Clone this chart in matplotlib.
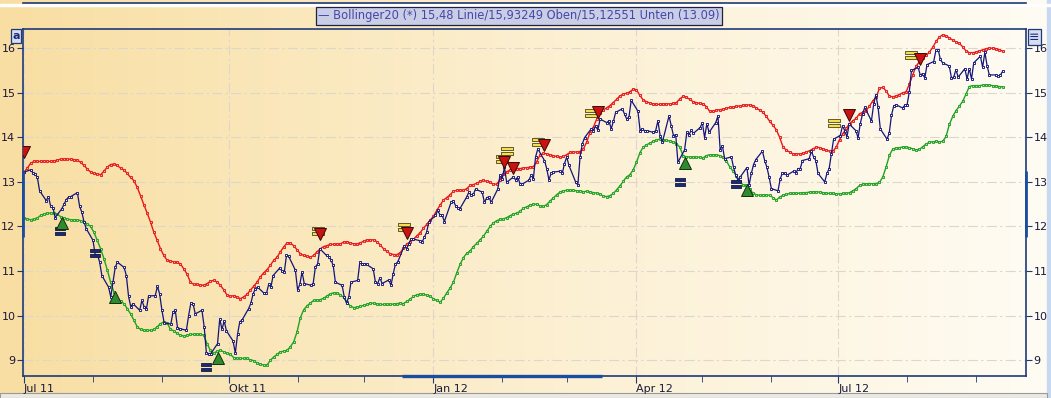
import matplotlib
matplotlib.use("Agg")
import matplotlib.pyplot as plt
import matplotlib.dates as mdates
from matplotlib.colors import LinearSegmentedColormap
from matplotlib.patches import Rectangle
from matplotlib.path import Path
import numpy as np
import pandas as pd

# daily close, one value per trading day from 2011-07-01
price = [
    # Q3 2011
    13.22, 13.27, 13.2, 13.18, 13.1, 12.8, 12.58, 12.67, 12.45, 12.42,
    12.2, 12.4, 12.5, 12.6, 12.66, 12.67, 12.76, 12.45, 12.32, 12.1,
    11.95, 11.69, 11.37, 11.37, 11.2, 10.9, 10.64, 10.42, 10.75, 11.08,
    11.2, 11.08, 10.9, 10.43, 10.2, 10.27, 10.12, 10.34, 10.2, 10.14,
    10.44, 10.45, 10.66, 10.48, 10.12, 9.84, 9.81, 10.08, 10.12, 9.73,
    9.71, 9.67, 10.0, 10.28, 10.27, 10.04, 10.12, 9.75, 9.16, 9.15,
    9.15, 9.37, 9.93, 9.69, 9.88, 9.66,
    # Q4 2011
    9.43, 9.16, 9.58, 9.86, 9.9, 10.16, 10.28, 10.49, 10.6, 10.64,
    10.5, 10.5, 10.7, 10.64, 10.9, 11.07, 11.0, 10.97, 11.35, 11.33,
    11.02, 10.58, 10.7, 10.98, 10.72, 10.68, 10.72, 11.09, 11.16, 11.5,
    11.35, 11.32, 11.25, 11.13, 10.75, 10.68, 10.42, 10.28, 10.42, 10.75,
    10.79, 11.2, 11.16, 11.16, 11.15, 11.05, 10.75, 10.72, 10.85, 10.72,
    10.8, 10.68, 10.94, 11.16, 11.2, 11.57, 11.5, 11.61, 11.72, 11.72,
    11.68, 11.65, 11.76, 11.87, 12.1,
    # Q1 2012
    12.25, 12.36, 12.26, 12.25, 12.11, 12.54, 12.58, 12.47, 12.42, 12.4,
    12.66, 12.77, 12.7, 12.72, 12.84, 12.77, 12.54, 12.64, 12.67, 12.54,
    12.84, 13.15, 13.07, 13.33, 12.99, 13.11, 13.05, 13.11, 12.96, 12.95,
    13.04, 13.15, 13.07, 13.56, 13.74, 13.48, 13.3, 13.05, 13.19, 13.22,
    13.24, 13.19, 13.41, 13.56, 13.37, 13.0, 12.93, 13.56, 13.85, 13.99,
    14.19, 14.15, 14.26, 14.16, 14.41, 14.33, 14.37, 14.19, 14.36, 14.56,
    14.64, 14.52, 14.41, 14.46, 14.83,
    # Q2 2012
    14.59, 14.15, 14.19, 14.15, 14.15, 14.11, 14.15, 14.37, 14.04, 13.89,
    14.48, 14.26, 14.04, 14.06, 13.44, 13.72, 14.11, 14.06, 14.16, 14.09,
    14.22, 14.33, 13.99, 14.31, 14.11, 14.33, 14.48, 13.72, 13.81, 13.52,
    13.56, 13.33, 13.15, 13.04, 13.11, 13.32, 12.93, 13.19, 13.39, 13.5,
    13.69, 13.48, 13.33, 13.11, 12.85, 12.8, 13.07, 13.2, 13.19, 13.15,
    13.24, 13.19, 13.3, 13.3, 13.48, 13.52, 13.69, 13.56, 13.48, 13.19,
    13.0, 13.19, 13.3, 13.63, 13.96,
    # Q3 2012
    14.04, 14.26, 14.15, 14.01, 14.3, 14.15, 13.99, 14.31, 14.52, 14.67,
    14.37, 14.74, 14.96, 14.67, 14.19, 13.96, 14.09, 14.49, 14.7, 14.73,
    14.66, 14.72, 14.72, 15.01, 15.5, 15.57, 15.39, 15.43, 15.33, 15.63,
    15.7, 15.95, 15.97, 15.75, 15.67, 15.6, 15.33, 15.35, 15.52, 15.35,
    15.54, 15.31, 15.54, 15.31, 15.67, 15.82, 15.57, 15.91, 15.61, 15.4,
    15.4, 15.37, 15.4, 15.48,
]

# Bollinger bands, evenly spaced from 2011-07-01 to 2012-09-13
upper_band = [
    13.22, 13.31, 13.42, 13.46, 13.46, 13.46, 13.46, 13.46, 13.46, 13.47,
    13.49, 13.51, 13.51, 13.51, 13.51, 13.5, 13.49, 13.44, 13.37, 13.29,
    13.22, 13.19, 13.18, 13.16, 13.24, 13.33, 13.39, 13.4, 13.37, 13.31,
    13.27, 13.19, 13.1, 13.03, 12.88, 12.69, 12.49, 12.3, 12.1, 11.87,
    11.69, 11.5, 11.35, 11.24, 11.22, 11.21, 11.2, 11.16, 11.05, 10.93,
    10.75, 10.7, 10.7, 10.69, 10.68, 10.72, 10.77, 10.79, 10.75, 10.68,
    10.58, 10.46, 10.43, 10.45, 10.42, 10.38, 10.42, 10.48, 10.57, 10.66,
    10.75, 10.87, 10.96, 11.03, 11.13, 11.24, 11.31, 11.43, 11.54, 11.63,
    11.63, 11.57, 11.48,
    11.39, 11.35, 11.33, 11.31, 11.35, 11.43, 11.5, 11.55, 11.57, 11.6,
    11.6, 11.6, 11.61, 11.65, 11.66, 11.63, 11.61, 11.61, 11.63, 11.67,
    11.7, 11.7, 11.7, 11.66, 11.59, 11.5, 11.44, 11.39, 11.37, 11.37,
    11.41, 11.51, 11.61, 11.65, 11.71, 11.79, 11.86, 11.96, 12.05, 12.14,
    12.23, 12.36, 12.48, 12.59, 12.65, 12.71, 12.79, 12.81, 12.81, 12.81,
    12.85, 12.92, 12.94, 12.97, 13.01, 13.04, 13.01, 12.99,
    12.95, 12.95, 13.05, 13.17, 13.23, 13.26, 13.28, 13.3, 13.3, 13.31,
    13.32, 13.33, 13.34, 13.45, 13.6, 13.64, 13.63, 13.61, 13.59, 13.57,
    13.56, 13.57, 13.61, 13.66, 13.67, 13.67, 13.68, 13.73, 13.89, 14.1,
    14.22, 14.4, 14.54, 14.61, 14.66, 14.71, 14.78, 14.85, 14.93, 14.97,
    14.99, 15.02, 15.08, 15.07, 14.94, 14.84, 14.8, 14.77, 14.75, 14.74,
    14.74, 14.75, 14.75, 14.75, 14.76, 14.78, 14.86, 14.92, 14.9,
    14.85, 14.8, 14.78, 14.76, 14.75, 14.69, 14.58, 14.59, 14.61, 14.62,
    14.63, 14.65, 14.67, 14.67, 14.7, 14.7, 14.72, 14.72, 14.73, 14.71,
    14.66, 14.61, 14.56, 14.47, 14.36, 14.27, 14.17, 14.0, 13.79, 13.71,
    13.67, 13.63, 13.63, 13.63, 13.64, 13.67, 13.7, 13.74, 13.78, 13.77,
    13.74, 13.71, 13.69, 13.69, 13.78, 13.95, 14.08, 14.2, 14.31, 14.37,
    14.43, 14.53, 14.56, 14.6, 14.7,
    14.82, 14.9, 15.1, 15.12, 15.04, 14.92, 14.91, 14.93, 14.96, 15.0,
    15.02, 15.2, 15.4, 15.6, 15.69, 15.77, 15.84, 15.91, 16.02, 16.15,
    16.25, 16.3, 16.28, 16.23, 16.18, 16.14, 16.11, 16.03, 15.94, 15.9,
    15.9, 15.91, 15.94, 15.96, 15.99, 16.0, 16.0, 15.99, 15.97, 15.93,
]

lower_band = [
    12.19, 12.17, 12.15, 12.17, 12.19, 12.25, 12.28, 12.3, 12.3, 12.3,
    12.28, 12.22, 12.19, 12.17, 12.15, 12.15, 12.15, 12.13, 12.1, 12.06,
    12.0, 11.87, 11.69, 11.5, 11.28, 11.03, 10.75, 10.53, 10.34, 10.33,
    10.27, 10.16, 10.04, 9.9, 9.75, 9.69, 9.67, 9.67, 9.67, 9.69,
    9.75, 9.82, 9.86, 9.84, 9.69, 9.66, 9.6, 9.56, 9.54, 9.56,
    9.58, 9.58, 9.58, 9.58, 9.56, 9.37, 9.22, 9.16, 9.2, 9.22,
    9.19, 9.16, 9.13, 9.06, 9.04, 9.04, 9.04, 9.04, 9.01, 8.99,
    8.94, 8.91, 8.89, 8.89, 9.0, 9.07, 9.13, 9.19, 9.2, 9.22,
    9.3, 9.41, 9.63,
    9.95, 10.13, 10.22, 10.28, 10.34, 10.34, 10.36, 10.39, 10.44, 10.49,
    10.51, 10.51, 10.47, 10.41, 10.3, 10.22, 10.18, 10.19, 10.21, 10.23,
    10.25, 10.28, 10.28, 10.26, 10.25, 10.25, 10.25, 10.25, 10.26, 10.27,
    10.28, 10.27, 10.32, 10.37, 10.43, 10.47, 10.48, 10.48, 10.46, 10.43,
    10.38, 10.34, 10.3, 10.39, 10.51, 10.62, 10.75, 10.96, 11.15, 11.3,
    11.4, 11.45, 11.55, 11.62, 11.7, 11.78, 11.89, 12.0,
    12.08, 12.13, 12.16, 12.17, 12.2, 12.24, 12.28, 12.3, 12.34, 12.41,
    12.44, 12.48, 12.5, 12.5, 12.46, 12.45, 12.49, 12.57, 12.64, 12.71,
    12.77, 12.8, 12.81, 12.81, 12.81, 12.8, 12.8, 12.78, 12.79, 12.78,
    12.76, 12.75, 12.73, 12.68, 12.67, 12.69, 12.74, 12.82, 12.91, 13.01,
    13.11, 13.16, 13.27, 13.44, 13.65, 13.78, 13.83, 13.87, 13.91, 13.94,
    13.96, 13.95, 13.93, 13.92, 13.9, 13.86, 13.78, 13.59, 13.56,
    13.56, 13.56, 13.56, 13.55, 13.54, 13.59, 13.61, 13.61, 13.61, 13.59,
    13.55, 13.47, 13.34, 13.24, 13.14, 13.02, 12.93, 12.92, 12.83, 12.75,
    12.71, 12.7, 12.7, 12.71, 12.7, 12.65, 12.59, 12.66, 12.7, 12.72,
    12.74, 12.74, 12.74, 12.75, 12.76, 12.76, 12.77, 12.78, 12.78, 12.77,
    12.76, 12.75, 12.74, 12.74, 12.73, 12.73, 12.74, 12.74, 12.76, 12.8,
    12.85, 12.92, 12.95, 12.96, 12.96,
    12.96, 12.96, 12.99, 13.11, 13.34, 13.6, 13.74, 13.76, 13.77, 13.78,
    13.78, 13.77, 13.74, 13.72, 13.73, 13.79, 13.85, 13.89, 13.9, 13.91,
    13.9, 13.91, 14.02, 14.29, 14.47, 14.6, 14.7, 14.81, 14.97, 15.14,
    15.16, 15.16, 15.16, 15.17, 15.18, 15.17, 15.16, 15.15, 15.14, 15.13,
]

# signals
sell_dates = ["2011-07-01", "2011-11-11", "2011-12-20", "2012-02-02", "2012-02-06",
              "2012-02-20", "2012-03-15", "2012-07-06", "2012-08-07"]
sell_values = [13.67, 11.83, 11.85, 13.44, 13.31, 13.83, 14.57, 14.5, 15.75]
buy_dates = ["2011-07-18", "2011-08-11", "2011-09-26", "2012-04-23", "2012-05-21"]
buy_values = [12.08, 10.42, 9.05, 13.42, 12.82]
exit_dates = ["2011-07-17", "2011-08-02", "2011-09-21", "2012-04-21", "2012-05-16"]
exit_values = [11.9, 11.4, 8.85, 13.0, 12.95]
note_dates = ["2011-11-10", "2011-12-19", "2012-02-01", "2012-02-03", "2012-02-17",
              "2012-03-12", "2012-06-29", "2012-08-03"]
note_values = [11.9, 11.98, 13.51, 13.69, 13.9, 14.54, 14.32, 15.84]

tick_dates = ["2011-07-01", "2011-10-01", "2012-01-01", "2012-04-01", "2012-07-01"]
tick_labels = ["Jul 11", "Okt 11", "Jan 12", "Apr 12", "Jul 12"]
y_ticks = [9, 10, 11, 12, 13, 14, 15, 16]
legend_text = "Bollinger20 (*) 15,48 Linie/15,93249 Oben/15,12551 Unten (13.09)"

W, H = 1051, 398
NAVY = "#14147a"
FRAME = "#1e3a78"

fig = plt.figure(figsize=(W / 100, H / 100), dpi=100)

# warm horizontal gradient behind everything
bg = fig.add_axes([0, 0, 1, 1], zorder=-10)
cmap = LinearSegmentedColormap.from_list("warm", ["#f8dea2", "#fcefd0", "#fffcf4"])
bg.imshow(np.linspace(0, 1, 256).reshape(1, -1), aspect="auto", cmap=cmap,
          extent=[0, 1, 0, 1])
bg.set_xlim(0, 1)
bg.set_ylim(0, 1)
bg.axis("off")

fig.patches.append(Rectangle((1047 / W, 0), 4 / W, 1, transform=fig.transFigure,
                             color="#c8d8f0", zorder=-5))
fig.patches.append(Rectangle((0, 0), 1047 / W, 5 / H, transform=fig.transFigure,
                             facecolor="#ebe9e4", edgecolor="#9a9a9a", lw=0.8, zorder=-5))
# edge of the panel above
fig.patches.append(Rectangle((0, 1 - 6 / H), 1, 2 / H, transform=fig.transFigure,
                             color="white", zorder=-5))
fig.add_artist(plt.Line2D([23 / W, 1026 / W], [1 - 3 / H, 1 - 3 / H],
                          color=FRAME, lw=1.2, transform=fig.transFigure))

ax = fig.add_axes([23 / W, 1 - 376 / H, 1003 / W, 347 / H])
ax.set_facecolor("none")

price_dates = pd.bdate_range("2011-07-01", periods=len(price))
band_dates = pd.date_range("2011-07-01", "2012-09-13", periods=len(upper_band))

ax.plot(band_dates, upper_band, color="#e81818", lw=1.0, marker="s", ms=2.1,
        mfc="#ffa8a8", mec="#e81818", mew=0.65, zorder=3)
ax.plot(band_dates, lower_band, color="#22a022", lw=1.0, marker="s", ms=2.1,
        mfc="#a8e4a8", mec="#22a022", mew=0.65, zorder=3)
ax.plot(price_dates, price, color=NAVY, lw=0.9, marker="s", ms=2.0,
        mfc="white", mec=NAVY, mew=0.65, zorder=4)

bars = Path([(-1, 0.2), (1, 0.2), (1, 0.8), (-1, 0.8), (-1, 0.2),
             (-1, -0.8), (1, -0.8), (1, -0.2), (-1, -0.2), (-1, -0.8)],
            [Path.MOVETO, Path.LINETO, Path.LINETO, Path.LINETO, Path.CLOSEPOLY] * 2)

ax.plot(pd.to_datetime(note_dates), note_values, ls="none", marker=bars, ms=8,
        mfc="#f4e04c", mec="#4a4418", mew=0.6, zorder=5)
ax.plot(pd.to_datetime(exit_dates), exit_values, ls="none", marker=bars, ms=7.5,
        mfc="#1c2a6e", mec="#10184a", mew=0.6, zorder=5)
ax.plot(pd.to_datetime(sell_dates), sell_values, ls="none", marker="v", ms=9,
        mfc="#cc1111", mec="#3a0808", mew=0.7, zorder=6)
ax.plot(pd.to_datetime(buy_dates), buy_values, ls="none", marker="^", ms=9,
        mfc="#2e8b2e", mec="#0e2e0e", mew=0.7, zorder=6)

start = pd.Timestamp("2011-07-01")
ax.set_xlim(start - pd.Timedelta(hours=11), start + pd.Timedelta(days=450.5))
ax.set_ylim(8.646, 16.43)

ax.set_xticks(pd.to_datetime(tick_dates))
ax.set_xticklabels(tick_labels)
ax.xaxis.set_minor_locator(mdates.MonthLocator())
plt.setp(ax.get_xticklabels(), ha="left")
ax.set_yticks(y_ticks)
ax.set_yticklabels([str(v) for v in y_ticks])

ax.tick_params(axis="both", which="both", direction="out", colors=FRAME,
               labelcolor="#1a1a3a", labelsize=8)
ax.tick_params(axis="x", which="major", length=5, pad=1)
ax.tick_params(axis="x", which="minor", length=4)
ax.tick_params(axis="y", length=4, pad=1.5, right=True, labelright=True)

ax.grid(True, axis="both", which="major", color="#ddd6cc",
        linestyle=(0, (9, 3, 2, 3)), lw=0.8)
ax.set_axisbelow(True)
for side in ax.spines.values():
    side.set_color(FRAME)
    side.set_linewidth(1.2)

# scroll markers on the frame
ax.plot(pd.to_datetime(["2011-12-18", "2012-03-17"]), [8.646, 8.646], color="#1a4ca0",
        lw=2.4, solid_capstyle="butt", clip_on=False, zorder=7)
for xa in (0, 1):
    ax.plot([xa, xa], [0.4, 0.59], transform=ax.transAxes, color="#1a4ca0", lw=2.0,
            solid_capstyle="butt", clip_on=False, zorder=7)

# legend box
fig.text(318 / W, 1 - 16 / H, "\u2014 " + legend_text, fontsize=8.3, color="#4646a8",
         va="center", ha="left",
         bbox=dict(boxstyle="square,pad=0.2", facecolor="#c9cee6", edgecolor="#202040", lw=0.9))

# corner buttons
fig.text(16 / W, 1 - 36 / H, "a", fontsize=8, fontweight="bold", color="#1a2a80",
         ha="center", va="center",
         bbox=dict(boxstyle="square,pad=0.15", facecolor="#d8ddf0", edgecolor=FRAME, lw=0.9))
fig.text(1034 / W, 1 - 37 / H, "\u2261", fontsize=9, color="#1a2a80",
         ha="center", va="center",
         bbox=dict(boxstyle="square,pad=0.1", facecolor="#d8ddf0", edgecolor=FRAME, lw=0.9))

fig.savefig("out.png", dpi=100)
